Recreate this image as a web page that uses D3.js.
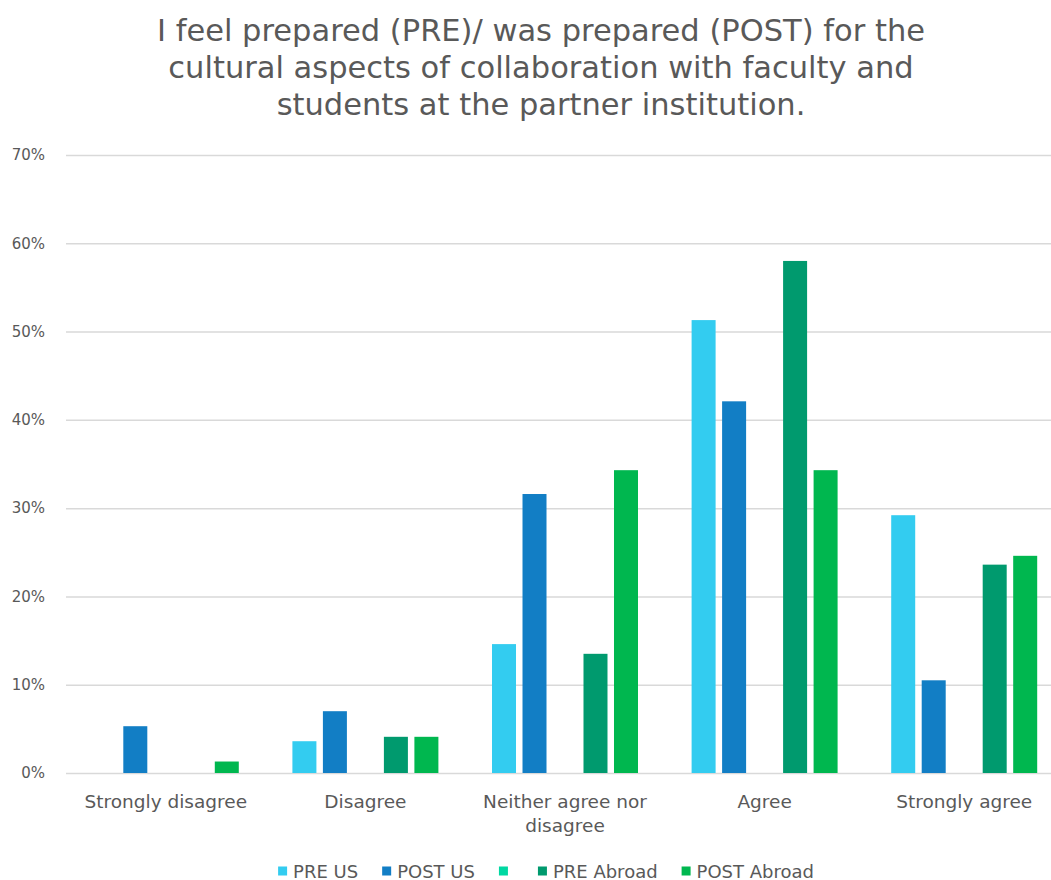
<!DOCTYPE html>
<html>
<head>
<meta charset="utf-8">
<script src="https://cdn.jsdelivr.net/npm/d3@7"></script>
<style>
  html, body { margin: 0; padding: 0; background: #fff; }
  svg { display: block; font-family: "DejaVu Sans", sans-serif; }
</style>
</head>
<body>
<svg id="chart" width="1051" height="880"></svg>
<script>
// Survey answer categories (x axis)
const categories = ["Strongly disagree", "Disagree", "Neither agree nor disagree", "Agree", "Strongly agree"];
const categoryLines = [["Strongly disagree"], ["Disagree"], ["Neither agree nor", "disagree"], ["Agree"], ["Strongly agree"]];

// Series names (the third series carries no name and no responses)
const seriesNames = ["PRE US", "POST US", "", "PRE Abroad", "POST Abroad"];
const seriesColors = ["#33CCF0", "#127EC5", "#00D8A2", "#009A6E", "#00B74F"];

// Share of respondents, in percent, per category
const preUS      = [0,   3.6, 14.6, 51.3, 29.2];
const postUS     = [5.3, 7.0, 31.6, 42.1, 10.5];
const unnamed    = [0,   0,   0,    0,    0];
const preAbroad  = [0,   4.1, 13.5, 58.0, 23.6];
const postAbroad = [1.3, 4.1, 34.3, 34.3, 24.6];
const seriesValues = [preUS, postUS, unnamed, preAbroad, postAbroad];

// Y axis ticks
const yTicks = [0, 10, 20, 30, 40, 50, 60, 70];

const svg = d3.select("#chart");
const textColor = "#595959";

const plot = { left: 66, right: 1064, top: 155, bottom: 773 };

const x0 = d3.scaleBand().domain(categories).range([plot.left, plot.right]).paddingInner(0).paddingOuter(0);
const x1 = d3.scaleBand().domain(d3.range(seriesNames.length)).range([0, x0.bandwidth()])
  .paddingInner(0.213).paddingOuter(0.879);
const y = d3.scaleLinear().domain([0, 70]).range([plot.bottom, plot.top]);

// Title
const titleLines = [
  "I feel prepared (PRE)/ was prepared (POST) for the",
  "cultural aspects of collaboration with faculty and",
  "students at the partner institution."
];
svg.append("g").selectAll("text").data(titleLines).join("text")
  .attr("x", 541).attr("y", (d, i) => 41 + i * 37)
  .attr("text-anchor", "middle")
  .attr("font-size", 30.5)
  .attr("fill", textColor)
  .text(d => d);

// Gridlines and y tick labels
const yAxis = d3.axisLeft(y).tickValues(yTicks).tickFormat(d => d + "%")
  .tickSize(-(1051 - plot.left)).tickPadding(21);
const gy = svg.append("g").attr("transform", `translate(${plot.left},0)`).call(yAxis);
gy.select(".domain").remove();
gy.selectAll(".tick line").attr("stroke", "#d9d9d9").attr("stroke-width", 1.5);
gy.selectAll(".tick text").attr("fill", textColor).attr("font-size", 15)
  .attr("font-family", "DejaVu Sans, sans-serif");

// Bars
const groups = svg.append("g").selectAll("g").data(categories).join("g")
  .attr("transform", d => `translate(${x0(d)},0)`);
groups.selectAll("rect")
  .data((c, ci) => seriesValues.map((vals, si) => ({ si, v: vals[ci] })))
  .join("rect")
  .attr("x", d => x1(d.si))
  .attr("width", x1.bandwidth())
  .attr("y", d => y(d.v))
  .attr("height", d => y(0) - y(d.v))
  .attr("fill", d => seriesColors[d.si]);

// Category labels
const xl = svg.append("g").selectAll("text").data(categories).join("text")
  .attr("x", d => x0(d) + x0.bandwidth() / 2)
  .attr("y", 808)
  .attr("text-anchor", "middle")
  .attr("font-size", 18.5)
  .attr("fill", textColor);
xl.selectAll("tspan").data((d, i) => categoryLines[i]).join("tspan")
  .attr("x", function () { return d3.select(this.parentNode).attr("x"); })
  .attr("dy", (d, i) => i === 0 ? 0 : 24)
  .text(d => d);

// Legend
const legend = svg.append("g");
let lx = 0;
seriesNames.forEach((name, i) => {
  const g = legend.append("g").attr("transform", `translate(${lx},0)`);
  g.append("rect").attr("x", 0).attr("y", -4.5).attr("width", 9).attr("height", 9).attr("fill", seriesColors[i]);
  const t = g.append("text").attr("x", 15).attr("y", 6.5).attr("font-size", 18).attr("fill", textColor).text(name);
  const w = name ? t.node().getComputedTextLength() : 0;
  lx += 15 + w + 24;
});
const legendWidth = lx - 24;
legend.attr("transform", `translate(${(546 - legendWidth / 2).toFixed(1)},871)`);
</script>
</body>
</html>
